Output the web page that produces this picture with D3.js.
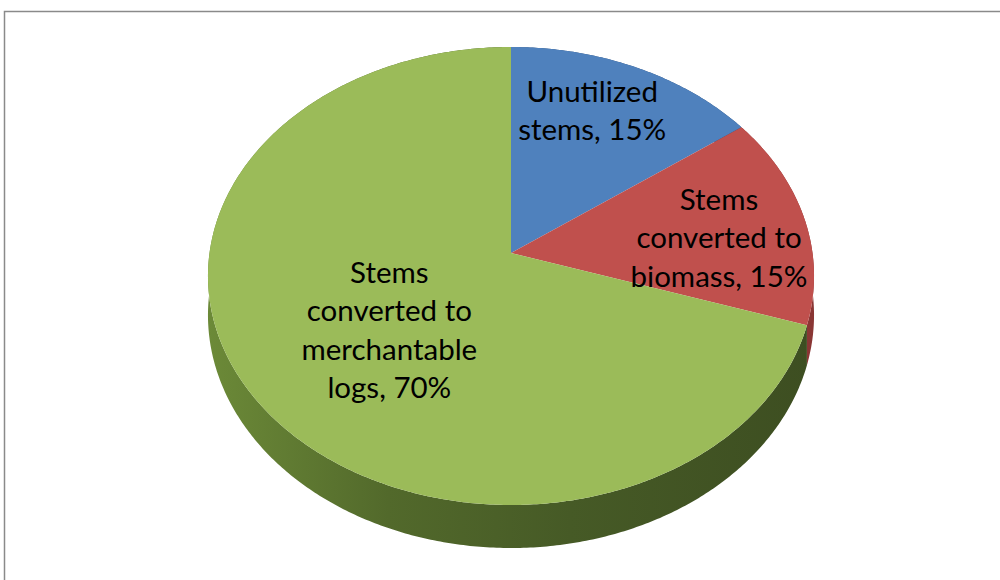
<!DOCTYPE html>
<html>
<head>
<meta charset="utf-8">
<script src="https://cdn.jsdelivr.net/npm/d3@7"></script>
<style>
  body { margin: 0; background: #fff; }
  svg text { font-family: Lato, "Open Sans", sans-serif; fill: #000; }
</style>
</head>
<body>
<div id="chart"></div>
<script>
// slices, clockwise from 12 o'clock
var categories = ['Unutilized stems', 'Stems converted to biomass', 'Stems converted to merchantable logs'];
var values = [15, 15, 70];
var labelLines = [
  ['Unutilized', 'stems, 15%'],
  ['Stems', 'converted to', 'biomass, 15%'],
  ['Stems', 'converted to', 'merchantable', 'logs, 70%']
];
var topColors = ['#4f81bd', '#c0504d', '#9bbb59'];

var W = 1000, H = 580;

var svg = d3.select('#chart').append('svg')
  .attr('width', W)
  .attr('height', H);

// chart area border (runs off right / bottom)
svg.append('rect')
  .attr('x', 4.5).attr('y', 11.5)
  .attr('width', 1010).attr('height', 600)
  .attr('fill', '#fff')
  .attr('stroke', '#8a8a8a')
  .attr('stroke-width', 1.5);

var defs = svg.append('defs');
var gGreen = defs.append('linearGradient').attr('id', 'sideGreen')
  .attr('gradientUnits', 'userSpaceOnUse')
  .attr('x1', 207).attr('x2', 813).attr('y1', 0).attr('y2', 0);
gGreen.append('stop').attr('offset', '0%').attr('stop-color', '#6c8a38');
gGreen.append('stop').attr('offset', '30%').attr('stop-color', '#52692b');
gGreen.append('stop').attr('offset', '60%').attr('stop-color', '#465a26');
gGreen.append('stop').attr('offset', '100%').attr('stop-color', '#3d4e21');
var sideColors = ['#2f4f7a', '#8a3634', 'url(#sideGreen)'];

// perspective pie: centre of slices, tilt and depth
var cx = 511, R = 301.5;
var persp = -0.1004, A = 201.3, B = 253, depth = 38.7;

function proj(a, r) {
  var x = r * Math.sin(a), z = -r * Math.cos(a);
  var d = 1 + persp * z;
  return [cx + R * x / d, (A * z + B) / d, depth / d];
}

var pie = d3.pie().sort(null).value(function(d) { return d; });
var arcs = pie(values);

function rim(a0, a1, bottom) {
  var n = Math.max(8, Math.ceil(Math.abs(a1 - a0) / 0.01));
  var pts = [];
  for (var i = 0; i <= n; i++) {
    var p = proj(a0 + (a1 - a0) * i / n, 1);
    pts.push([p[0], bottom ? p[1] + p[2] : p[1]]);
  }
  return pts;
}

var line = d3.line();

// side walls first, then the top faces cover the hidden parts
svg.append('g').selectAll('path.side')
  .data(arcs)
  .enter().append('path')
    .attr('class', 'side')
    .attr('d', function(d) {
      var pts = rim(d.startAngle, d.endAngle, false)
        .concat(rim(d.endAngle, d.startAngle, true));
      return line(pts) + 'Z';
    })
    .attr('fill', function(d, i) { return sideColors[i]; });

svg.append('g').selectAll('path.top')
  .data(arcs)
  .enter().append('path')
    .attr('class', 'top')
    .attr('d', function(d) {
      var c = proj(0, 0);
      var pts = [[c[0], c[1]]].concat(rim(d.startAngle, d.endAngle, false));
      return line(pts) + 'Z';
    })
    .attr('fill', function(d, i) { return topColors[i]; });

// data labels
var labelR = [0.75, 0.72, 0.5];
var nudge = [[-15, 0], [-4, 10.5], [4, 9]];
var lineH = 38.5;
svg.append('g').selectAll('text.lbl')
  .data(arcs)
  .enter().append('text')
    .attr('class', 'lbl')
    .attr('font-size', 29.5)
    .attr('text-anchor', 'middle')
    .each(function(d, i) {
      var p = proj((d.startAngle + d.endAngle) / 2, labelR[i]);
      var ls = labelLines[i];
      var x = p[0] + nudge[i][0];
      var y0 = p[1] + nudge[i][1] - (ls.length - 1) * lineH / 2 + 10;
      d3.select(this).selectAll('tspan')
        .data(ls)
        .enter().append('tspan')
          .attr('x', x)
          .attr('y', function(t, k) { return y0 + k * lineH; })
          .text(function(t) { return t; });
    });
</script>
</body>
</html>
